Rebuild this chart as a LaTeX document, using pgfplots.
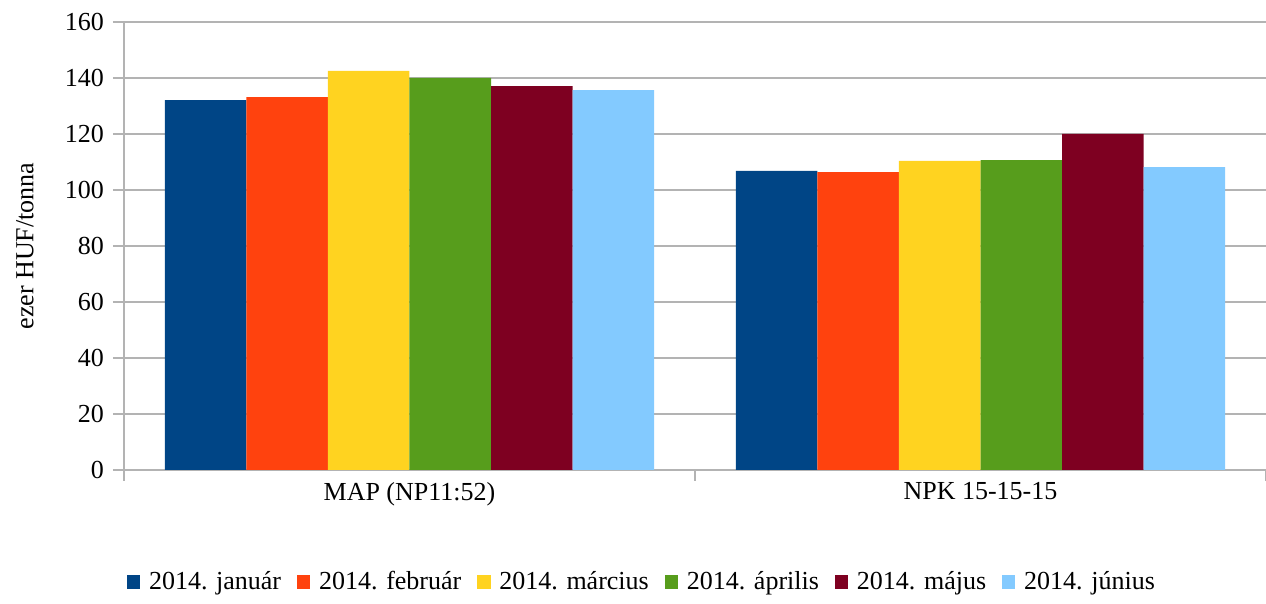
\documentclass[border=0pt]{standalone}
\usepackage{pgfplots}
\pgfplotsset{compat=1.18}
\usepackage{fontspec}
\setmainfont{Liberation Serif}
\definecolor{c1}{HTML}{004586}
\definecolor{c2}{HTML}{FF420E}
\definecolor{c3}{HTML}{FFD320}
\definecolor{c4}{HTML}{579D1C}
\definecolor{c5}{HTML}{7E0021}
\definecolor{c6}{HTML}{83CAFF}
\definecolor{axgray}{HTML}{B3B3B3}
\begin{document}
\fontsize{13}{15}\selectfont
\begin{tikzpicture}
\path[use as bounding box] (-62pt,-67pt) rectangle (571pt,235pt);
\begin{axis}[
  at={(0,0)}, anchor=south west,
  scale only axis, width=571pt, height=224pt,
  ybar=0pt, bar width=0.142857,
  xmin=-0.5, xmax=1.5, ymin=0, ymax=160,
  axis x line*=bottom, axis y line*=left,
  axis line style={axgray, line width=0.8pt},
  every tick/.style={axgray, line width=0.8pt},
  xtick={-0.5,0.5,1.5}, xticklabels={}, 
  extra x ticks={0,1}, extra x tick labels={MAP (NP11:52),NPK 15-15-15},
  extra x tick style={major tick length=0pt, grid=none, tick label style={yshift=-1.5pt}},
  ytick={0,20,...,160},
  tick align=outside, major tick length=5.5pt,
  ymajorgrids, grid style={axgray, line width=0.8pt},
  /pgf/number format/assume math mode=true,
  tick label style={font=\fontsize{13}{15}\selectfont},
  yticklabel style={xshift=0pt},
  legend columns=6,
  legend style={draw=none, fill=none, at={(259.5pt,-56pt)}, anchor=center,
    font=\fontsize{13}{15}\selectfont,
    /tikz/every even column/.append style={column sep=6pt}},
  legend image code/.code={\fill[#1] (0pt,-3.3pt) rectangle (6.6pt,3.3pt); \path (9pt,0pt);},
  every axis plot/.append style={draw=none},
]
\addplot[fill=c1] coordinates {(0,132.1) (1,106.8)};
\addplot[fill=c2] coordinates {(0,133.2) (1,106.4)};
\addplot[fill=c3] coordinates {(0,142.5) (1,110.4)};
\addplot[fill=c4] coordinates {(0,140.0) (1,110.7)};
\addplot[fill=c5] coordinates {(0,137.1) (1,120.0)};
\addplot[fill=c6] coordinates {(0,135.7) (1,108.2)};
\legend{2014. január,2014. február,2014. március,2014. április,2014. május,2014. június}
\end{axis}
\node[rotate=90, font=\fontsize{13}{15}\selectfont] at (-49.5pt,112pt) {ezer HUF/tonna};
\end{tikzpicture}
\end{document}
